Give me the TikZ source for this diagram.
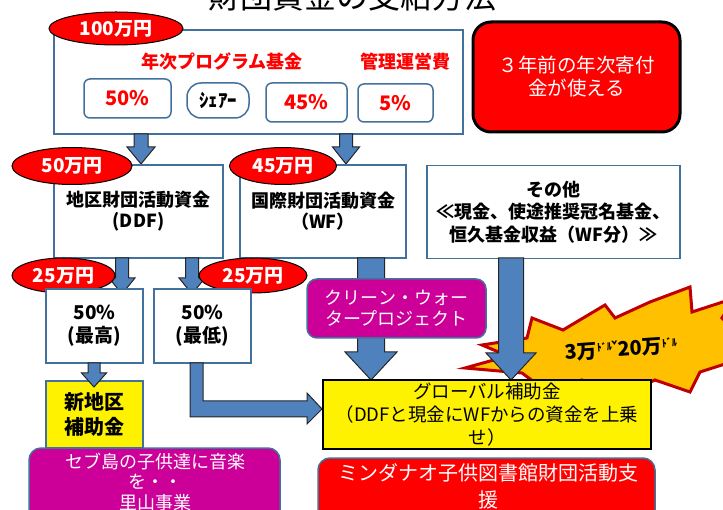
\documentclass[tikz,border=0pt]{standalone}
\usepackage{fontspec}
\setmainfont{Noto Sans CJK JP}
\usetikzlibrary{shapes.geometric}
\definecolor{boxblue}{HTML}{41719C}
\definecolor{arrowblue}{HTML}{4F81BD}
\definecolor{magen}{HTML}{CC0099}
\definecolor{starorange}{HTML}{FFC000}
\definecolor{starred}{HTML}{C00000}
\newcommand\myfs[2]{\fontsize{#1}{#2}\selectfont}
\newcommand\dnarrow[6]{%
  \filldraw[blockarrow] ({#1-#4/2},#2) -- ({#1+#4/2},#2) -- ({#1+#4/2},{#3-#6}) -- ({#1+#5/2},{#3-#6}) -- (#1,#3) -- ({#1-#5/2},{#3-#6}) -- ({#1-#4/2},{#3-#6}) -- cycle;}
\tikzset{
  bluebox/.style={rectangle, draw=boxblue, line width=1.5pt, fill=white, inner sep=0pt, align=center},
  pctbox/.style={rectangle, rounded corners=6pt, draw=boxblue, line width=1.5pt, fill=white, inner sep=0pt, text=red, font=\bfseries\myfs{20}{22}},
  redell/.style={ellipse, fill=red, draw=black, line width=1pt, inner sep=0pt, text=white, font=\bfseries\myfs{19}{20}},
  blockarrow/.style={fill=arrowblue, draw=black!85, line width=1pt, line join=miter},
  boldtxt/.style={font=\bfseries\myfs{18}{21}, align=center, inner sep=0pt},
  lighttxt/.style={font=\myfs{18}{21}, align=center, inner sep=0pt},
}
\begin{document}
\begin{tikzpicture}[x=1pt,y=-1pt]
\useasboundingbox (0,0) rectangle (723,510);
\clip (0,0) rectangle (723,510);

% title (cut at top)
\node[anchor=base, inner sep=0pt, font=\myfs{32}{32}] (title) at (352,9) {財団資金の支給方法};

% top main box
\node[bluebox, minimum width=409pt, minimum height=104pt] (main) at (258.5,82) {};
\node[redell, minimum width=134pt, minimum height=33pt] (e100) at (116,28.5) {100万円};
\node[boldtxt, text=red] (prog) at (222,62) {年次プログラム基金};
\node[boldtxt, text=red] (kanri) at (405,62) {管理運営費};
\node[pctbox, minimum width=87pt, minimum height=39pt] (p50) at (127.5,98.5) {50\%};
\node[rectangle, rounded corners=14pt, draw=boxblue, line width=1.5pt, fill=white, inner sep=0pt, font=\bfseries\myfs{19}{19}, minimum width=62pt, minimum height=35pt] (share) at (218,100.5) {ｼｪｱｰ};
\node[pctbox, minimum width=81pt, minimum height=39pt] (p45) at (306.5,102.5) {45\%};
\node[pctbox, minimum width=75pt, minimum height=38pt] (p5) at (395.5,103) {5\%};

% red box right
\node[rectangle, rounded corners=18pt, fill=red, draw=black, line width=3pt, text=white, align=center, inner sep=0pt, font=\myfs{19.5}{23}, minimum width=207pt, minimum height=110pt] (three) at (576.5,77) {３年前の年次寄付\\金が使える};

% arrows from main box
\dnarrow{141}{134}{164}{14}{28}{17}
\dnarrow{346}{134}{164}{13}{27}{17}

% second row boxes
\node[bluebox, boldtxt, minimum width=169pt, minimum height=93pt] (ddf) at (138.5,211.5) {地区財団活動資金\\(DDF)};
\node[bluebox, boldtxt, minimum width=166pt, minimum height=93pt] (wf) at (323,211.5) {国際財団活動資金\\（WF）};
\node[bluebox, boldtxt, minimum width=253pt, minimum height=93pt, font=\bfseries\myfs{18}{22.5}] (other) at (553.5,212) {その他\\≪現金、使途推奨冠名基金、\\恒久基金収益（WF分）≫};
\node[redell, minimum width=120pt, minimum height=37pt] (e50) at (72,166) {50万円};
\node[redell, minimum width=107pt, minimum height=37pt] (e45) at (283,166) {45万円};

% starburst
\filldraw[fill=starorange, draw=starred, line width=3pt, line join=miter]
  (465,368) -- (508,356) -- (482,345) -- (527,338) -- (532,318) -- (563,330) -- (605,305) -- (615,318) -- (650,302) -- (690,287) -- (692,312) -- (735,298) -- (722,318) -- (745,342) -- (725,364) -- (700,372) -- (690,392) -- (655,380) -- (620,396) -- (582,380) -- (542,388) -- (522,373) -- cycle;
\node[font=\bfseries\myfs{20}{20}, rotate=4, inner sep=0pt] (amount) at (621,349) {3万\raisebox{6pt}{\myfs{10}{10}ﾄﾞﾙ}\raisebox{7pt}{\myfs{10}{10}\char"02C7}20万\raisebox{6pt}{\myfs{10}{10}ﾄﾞﾙ}};

% arrows from DDF
\dnarrow{122}{258}{294}{13}{26}{16}
\dnarrow{192}{258}{294}{13}{26}{16}
\node[redell, minimum width=103pt, minimum height=35pt] (e25a) at (63.5,275.5) {25万円};
\node[redell, minimum width=108pt, minimum height=35pt] (e25b) at (253,275.5) {25万円};

% big arrows
\dnarrow{371}{258}{380}{27}{52}{28}
\dnarrow{511}{258}{380}{25}{50}{27}

% clean water
\node[rectangle, rounded corners=10pt, fill=magen, draw=boxblue, line width=1.5pt, text=white, lighttxt, minimum width=179pt, minimum height=59pt] (clean) at (396.5,308.5) {クリーン・ウォー\\タープロジェクト};

% 50% boxes
\node[bluebox, boldtxt, font=\bfseries\myfs{19}{23}, minimum width=97pt, minimum height=74pt] (hi) at (94.5,326) {50\%\\(最高)};
\node[bluebox, boldtxt, font=\bfseries\myfs{19}{23}, minimum width=97pt, minimum height=74pt] (lo) at (202.5,326) {50\%\\(最低)};

% new district grant
\node[rectangle, fill=yellow, draw=boxblue, line width=2.5pt, boldtxt, font=\bfseries\myfs{20}{25}, minimum width=97pt, minimum height=67pt] (newd) at (94.5,414.5) {新地区\\補助金};
\dnarrow{94}{363}{387}{12}{25}{14}

% elbow arrow
\filldraw[blockarrow] (190,363) -- (203,363) -- (203,401) -- (307,401) -- (307,393) -- (322,409) -- (307,424) -- (307,417) -- (190,417) -- cycle;

% global grant
\node[rectangle, fill=yellow, draw=black, line width=2.5pt, minimum width=328pt, minimum height=69pt] (glob) at (487,414.5) {};
\node[lighttxt, font=\myfs{18.5}{23}] (globt) at (487,415) {グローバル補助金\\（DDFと現金にWFからの資金を上乗\\せ）};

% bottom boxes
\node[rectangle, rounded corners=12pt, fill=magen, draw=boxblue, line width=1.5pt, minimum width=251pt, minimum height=78pt] (cebu) at (154.5,487) {};
\node[lighttxt, text=white, font=\myfs{18}{20.5}] (cebut) at (155,482) {セブ島の子供達に音楽\\を・・\\里山事業};
\node[rectangle, rounded corners=12pt, fill=red, draw=boxblue, line width=1.5pt, minimum width=337pt, minimum height=68pt] (mind) at (486.5,492) {};
\node[lighttxt, text=white, font=\myfs{20}{27}] (mindt) at (488,486) {ミンダナオ子供図書館財団活動支\\援};
\end{tikzpicture}
\end{document}
